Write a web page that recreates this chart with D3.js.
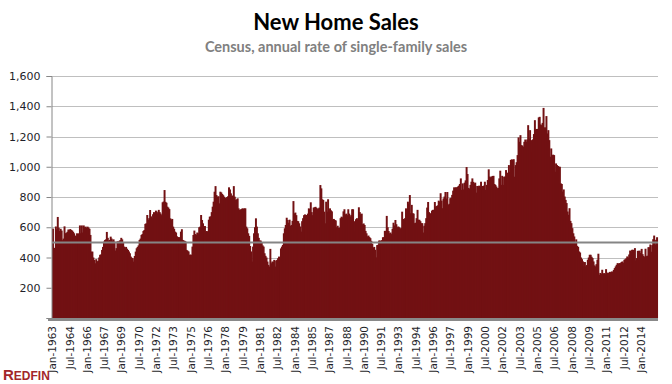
<!DOCTYPE html>
<html>
<head>
<meta charset="utf-8">
<script src="https://cdnjs.cloudflare.com/ajax/libs/d3/7.8.5/d3.min.js"></script>
<style>
  body { margin: 0; background: #fff; }
</style>
</head>
<body>
<script>
var width = 672;
var height = 384;

// new single-family home sales, thousands, seasonally adjusted annual rate, monthly from Jan 1963
var startYear = 1963;
var monthNames = ['Jan', 'Feb', 'Mar', 'Apr', 'May', 'Jun', 'Jul', 'Aug', 'Sep', 'Oct', 'Nov', 'Dec'];

var sales1960s = [
  591, 464, 461, 605, 586, 668, 597, 575, 590, 578, 515, 525,
  606, 560, 563, 570, 585, 583, 588, 582, 578, 570, 560, 545,
  540, 560, 555, 560, 612, 560, 612, 565, 612, 600, 604, 596,
  604, 598, 590, 549, 439, 439, 400, 384, 362, 389, 374, 378,
  400, 418, 420, 450, 470, 505, 515, 520, 569, 530, 512, 516,
  538, 525, 512, 520, 505, 446, 462, 507, 505, 510, 515, 530,
  520, 500, 472, 461, 470, 458, 450, 440, 428, 406, 398, 395
];
var sales1970s = [
  373, 410, 439, 461, 470, 480, 516, 525, 549, 555, 575, 582,
  622, 626, 681, 648, 660, 714, 672, 660, 686, 700, 692, 710,
  703, 692, 715, 700, 690, 680, 765, 770, 846, 768, 762, 736,
  730, 720, 659, 650, 655, 604, 590, 571, 565, 540, 532, 535,
  527, 571, 587, 516, 512, 510, 505, 450, 445, 440, 417, 420,
  417, 472, 549, 578, 555, 550, 565, 560, 600, 604, 681, 648,
  626, 582, 608, 571, 575, 570, 650, 670, 672, 700, 736, 769,
  835, 872, 813, 802, 805, 758, 835, 830, 820, 812, 802, 795,
  791, 800, 805, 864, 850, 824, 805, 810, 872, 802, 780, 785,
  791, 725, 714, 718, 720, 725, 722, 725, 725, 604, 593, 560
];
var sales1980s = [
  543, 476, 440, 373, 472, 560, 600, 659, 604, 560, 530, 512,
  512, 500, 480, 472, 428, 411, 400, 373, 351, 340, 457, 362,
  373, 372, 384, 340, 380, 384, 395, 406, 400, 460, 472, 483,
  560, 593, 615, 663, 648, 630, 650, 609, 615, 642, 773, 692,
  697, 680, 642, 640, 626, 605, 571, 640, 660, 680, 685, 670,
  681, 690, 725, 720, 765, 700, 680, 730, 732, 735, 728, 720,
  725, 730, 879, 857, 785, 780, 703, 626, 769, 703, 785, 703,
  725, 712, 705, 650, 655, 648, 645, 600, 610, 595, 598, 660,
  670, 665, 705, 719, 685, 690, 680, 719, 690, 670, 680, 719,
  719, 640, 571, 653, 660, 650, 732, 700, 686, 690, 620, 625
];
var sales1990s = [
  615, 576, 560, 540, 545, 535, 528, 510, 490, 465, 470, 451,
  401, 482, 484, 512, 512, 510, 515, 534, 534, 576, 576, 675,
  600, 575, 560, 565, 555, 590, 630, 612, 648, 620, 600, 605,
  600, 590, 595, 703, 655, 650, 660, 725, 690, 769, 755, 813,
  693, 748, 693, 690, 627, 630, 660, 715, 650, 649, 640, 627,
  627, 565, 610, 627, 660, 730, 767, 700, 693, 671, 710, 715,
  715, 767, 737, 740, 745, 776, 770, 825, 776, 726, 790, 803,
  833, 790, 833, 748, 755, 792, 795, 814, 842, 864, 860, 865,
  836, 869, 875, 886, 923, 847, 890, 850, 895, 910, 998, 952,
  860, 855, 880, 901, 923, 900, 890, 895, 829, 873, 870, 875
];
var sales2000s = [
  869, 901, 847, 873, 875, 901, 847, 880, 912, 983, 935, 930,
  935, 939, 940, 886, 880, 869, 858, 860, 923, 974, 880, 940,
  880, 934, 935, 978, 961, 955, 1011, 965, 1045, 1049, 1045, 1050,
  934, 1011, 1030, 1077, 1194, 1165, 1209, 1143, 1140, 1132, 1165, 1180,
  1165, 1180, 1275, 1187, 1242, 1176, 1093, 1181, 1216, 1308, 1247, 1250,
  1250, 1326, 1330, 1280, 1275, 1290, 1389, 1260, 1260, 1335, 1220, 1242,
  1176, 1066, 1121, 1077, 1080, 1077, 967, 1022, 1011, 1005, 1000, 1000,
  890, 886, 836, 850, 803, 781, 760, 704, 682, 726, 642, 627,
  594, 560, 539, 499, 520, 477, 470, 440, 433, 400, 389, 374,
  341, 370, 341, 350, 385, 400, 418, 418, 405, 396, 374, 348
];
var sales2010s = [
  341, 356, 385, 425, 286, 298, 292, 319, 293, 297, 290, 323,
  293, 300, 275, 305, 301, 308, 305, 318, 330, 341, 352, 363,
  359, 363, 363, 370, 374, 365, 385, 389, 395, 407, 400, 420,
  446, 440, 451, 451, 433, 462, 381, 396, 444, 444, 445, 430,
  457, 422, 410, 403, 458, 409, 412, 468, 468, 486, 438, 482,
  521, 545, 484, 517, 534, 482
];

var yTicks = [0, 200, 400, 600, 800, 1000, 1200, 1400, 1600];
var xTickLabels = [
  'Jan-1963', 'Jul-1964', 'Jan-1966', 'Jul-1967', 'Jan-1969', 'Jul-1970', 'Jan-1972',
  'Jul-1973', 'Jan-1975', 'Jul-1976', 'Jan-1978', 'Jul-1979', 'Jan-1981', 'Jul-1982',
  'Jan-1984', 'Jul-1985', 'Jan-1987', 'Jul-1988', 'Jan-1990', 'Jul-1991', 'Jan-1993',
  'Jul-1994', 'Jan-1996', 'Jul-1997', 'Jan-1999', 'Jul-2000', 'Jan-2002', 'Jul-2003',
  'Jan-2005', 'Jul-2006', 'Jan-2008', 'Jul-2009', 'Jan-2011', 'Jul-2012', 'Jan-2014'
];
var refLine = 500;

var sales = [].concat(sales1960s, sales1970s, sales1980s, sales1990s, sales2000s, sales2010s);
var data = sales.map(function(v, i) {
  var year = startYear + Math.floor(i / 12);
  return { month: monthNames[i % 12] + '-' + year, sales: v };
});

var plotLeft = 52;
var plotRight = 658;
var plotTop = 76;
var plotBottom = 318;

var svg = d3.select('body')
  .append('svg')
  .attr('width', width)
  .attr('height', height);

var xScale = d3.scaleBand()
  .domain(data.map(function(d) { return d.month; }))
  .range([plotLeft, plotRight])
  .padding(0);

var yScale = d3.scaleLinear()
  .domain([0, 1600])
  .range([plotBottom, plotTop]);

// title
svg.append('text')
  .attr('x', 336)
  .attr('y', 30)
  .attr('text-anchor', 'middle')
  .attr('font-family', 'Lato, sans-serif')
  .attr('font-weight', 'bold')
  .attr('font-size', '22px')
  .attr('fill', '#000')
  .text('New Home Sales');

svg.append('text')
  .attr('x', 336)
  .attr('y', 52)
  .attr('text-anchor', 'middle')
  .attr('font-family', 'Lato, sans-serif')
  .attr('font-weight', 'bold')
  .attr('font-size', '14.5px')
  .attr('fill', '#808080')
  .text('Census, annual rate of single-family sales');

// gridlines
svg.selectAll('line.grid')
  .data(yTicks.filter(function(d) { return d > 0; }))
  .enter()
  .append('line')
  .attr('class', 'grid')
  .attr('x1', plotLeft)
  .attr('x2', plotRight)
  .attr('y1', function(d) { return Math.round(yScale(d)) + 0.5; })
  .attr('y2', function(d) { return Math.round(yScale(d)) + 0.5; })
  .attr('stroke', '#bfbfbf')
  .attr('stroke-width', 1);

// bars, each one a pixel wider so neighbours leave no light seams
svg.selectAll('rect.bar')
  .data(data)
  .enter()
  .append('rect')
  .attr('class', 'bar')
  .attr('x', function(d) { return xScale(d.month); })
  .attr('y', function(d) { return yScale(d.sales); })
  .attr('width', function(d, i) {
    return i === data.length - 1 ? xScale.bandwidth() : xScale.bandwidth() + 1;
  })
  .attr('height', function(d) { return yScale(0) - yScale(d.sales); })
  .attr('fill', '#721113');

// reference line
svg.append('line')
  .attr('x1', plotLeft)
  .attr('x2', plotRight)
  .attr('y1', yScale(refLine))
  .attr('y2', yScale(refLine))
  .attr('stroke', '#858585')
  .attr('stroke-width', 2);

// bottom axis bar
svg.append('rect')
  .attr('x', 48)
  .attr('y', plotBottom)
  .attr('width', plotRight - 48)
  .attr('height', 3)
  .attr('fill', '#898989');

// y axis
var yAxis = d3.axisLeft(yScale)
  .tickValues(yTicks)
  .tickSize(5)
  .tickPadding(6)
  .tickFormat(function(d) { return d === 0 ? '' : d3.format(',')(d); });

var gy = svg.append('g')
  .attr('transform', 'translate(' + (plotLeft - 0.5) + ',0)')
  .call(yAxis);
gy.select('.domain').attr('stroke', '#868686');
gy.selectAll('.tick line').attr('stroke', '#868686');
gy.selectAll('.tick text')
  .attr('font-family', 'DejaVu Sans, sans-serif')
  .attr('font-size', '11px')
  .attr('fill', '#1f1f2a');

// x axis labels
var xAxis = d3.axisBottom(xScale)
  .tickValues(xTickLabels)
  .tickSize(0);

var gx = svg.append('g')
  .attr('transform', 'translate(0,' + plotBottom + ')')
  .call(xAxis);
gx.select('.domain').remove();
gx.selectAll('.tick text')
  .attr('transform', 'rotate(-90)')
  .attr('text-anchor', 'end')
  .attr('x', -8)
  .attr('y', 0)
  .attr('dy', '0.35em')
  .attr('font-family', 'DejaVu Sans, sans-serif')
  .attr('font-size', '10.5px')
  .attr('fill', '#1f1f2a');

// logo
var logo = svg.append('text')
  .attr('x', 3)
  .attr('y', 380)
  .attr('font-family', 'Liberation Sans, Arial, sans-serif')
  .attr('font-weight', 'bold')
  .attr('fill', '#a3262a');
logo.append('tspan').attr('font-size', '15px').text('R');
logo.append('tspan').attr('font-size', '12px').text('EDFIN');
</script>
</body>
</html>
